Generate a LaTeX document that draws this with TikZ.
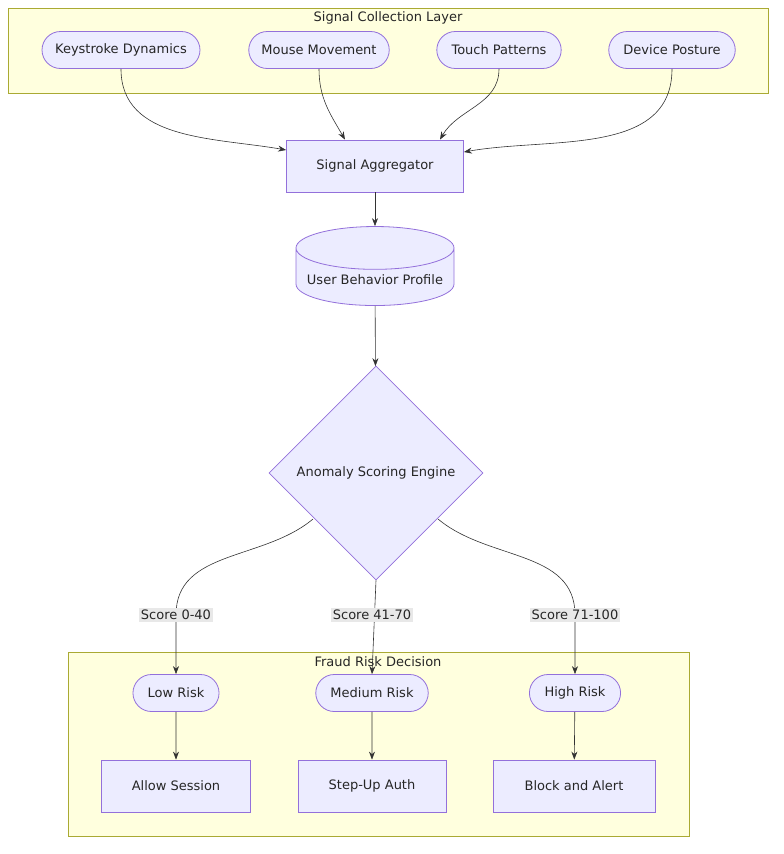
\documentclass[tikz,border=0pt]{standalone}
\usepackage{fontspec}
\setmainfont{DejaVu Sans}
\usetikzlibrary{shapes.geometric,shapes.misc,arrows.meta}
\definecolor{nodefill}{HTML}{ECECFF}
\definecolor{nodeline}{HTML}{9370DB}
\definecolor{clusterfill}{HTML}{FFFFDE}
\definecolor{clusterline}{HTML}{AAAA33}
\definecolor{labelfill}{HTML}{E8E8E8}
\tikzset{
  base/.style={draw=nodeline, fill=nodefill, line width=0.8pt, font=\fontsize{13}{15}\selectfont, text=black!85},
  pill/.style={base, rounded rectangle, minimum height=37pt, inner xsep=14pt},
  box/.style={base, rectangle, minimum height=52pt},
  cluster/.style={draw=clusterline, fill=clusterfill, line width=0.8pt},
  title/.style={font=\fontsize{13}{15}\selectfont, text=black!85},
  edgelabel/.style={fill=labelfill, font=\fontsize{13}{15}\selectfont, text=black!85, inner sep=2pt},
  flow/.style={draw=black!80, line width=0.6pt, -{Stealth[length=8pt,width=6pt]}},
}
\begin{document}
\begin{tikzpicture}[x=1pt, y=-1pt]
\useasboundingbox (0,0) rectangle (784,854);

% clusters
\draw[cluster] (8,8) rectangle (768,93);
\node[title] (topname) at (388,18) {Signal Collection Layer};
\draw[cluster] (68,652) rectangle (689,836);
\node[title] (botname) at (378,662) {Fraud Risk Decision};

% signal sources
\node[pill, inner xsep=12pt] (keys)  at (121,50) {Keystroke Dynamics};
\node[pill, inner xsep=12pt] (mouse) at (319,50) {Mouse Movement};
\node[pill] (touch) at (499,50) {Touch Patterns};
\node[pill] (post)  at (672,50) {Device Posture};

% pipeline
\node[box, minimum width=177pt] (agg) at (375,166) {Signal Aggregator};
\node[base, cylinder, shape border rotate=90, aspect=0.3, minimum width=158pt, minimum height=79pt, text depth=-12pt] (prof) at (375,280) {User Behavior Profile};
\node[base, diamond, aspect=1, inner sep=0pt, minimum size=214pt] (eng) at (376,473) {Anomaly Scoring Engine};

% risk levels
\node[pill] (low)  at (176,693) {Low Risk};
\node[pill] (med)  at (372,693) {Medium Risk};
\node[pill] (high) at (575,693) {High Risk};
\node[box, minimum width=149pt] (allow) at (176,786) {Allow Session};
\node[box, minimum width=148pt] (step)  at (372,786) {Step-Up Auth};
\node[box, minimum width=162pt] (block) at (574,786) {Block and Alert};

% edge labels
\coordinate (lab1) at (176,615);
\coordinate (lab2) at (372,615);
\coordinate (lab3) at (575,615);
\coordinate (lowout) at (313,519);
\coordinate (highout) at (438,519);

\draw[flow] (keys.south)  to[out=-90, in=170] (agg.west |- 0,150);
\draw[flow] (mouse.south) to[out=-90, in=120] ([xshift=-30pt]agg.north);
\draw[flow] (touch.south) to[out=-90, in=60]  ([xshift=65pt]agg.north);
\draw[flow] (post.south)  to[out=-90, in=10]  (agg.east |- 0,152);
\draw[flow] (agg) -- (prof);
\draw[flow] (prof) -- (eng);
\draw[flow] (lowout) to[out=-140, in=90] (lab1) -- (low.north);
\draw[flow] (eng.south) -- (med.north);
\draw[flow] (highout) to[out=-40, in=90] (lab3) -- (high.north);
\node[edgelabel] (s1) at (lab1) {Score 0-40};
\node[edgelabel] (s2) at (lab2) {Score 41-70};
\node[edgelabel] (s3) at (lab3) {Score 71-100};
\draw[flow] (low) -- (allow);
\draw[flow] (med) -- (step);
\draw[flow] (high) -- (block);
\end{tikzpicture}
\end{document}
